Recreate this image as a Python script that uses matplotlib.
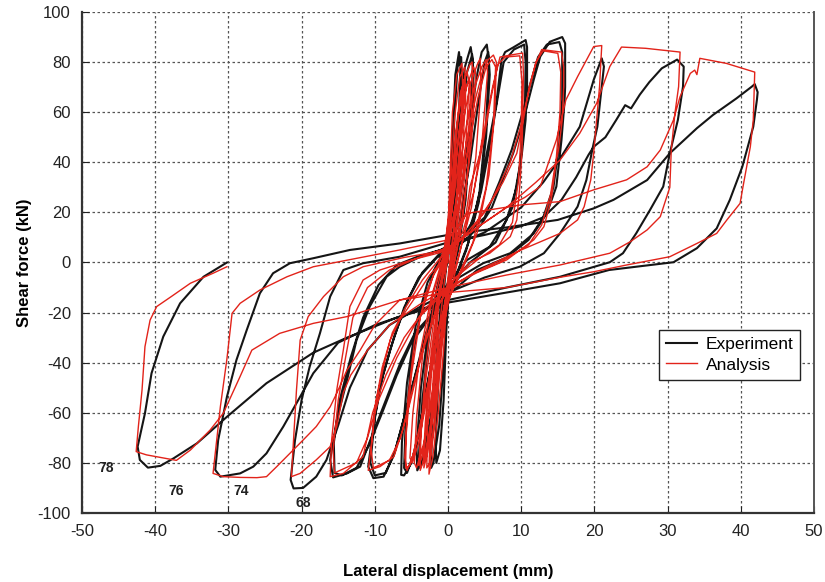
import matplotlib
matplotlib.use("Agg")
import matplotlib.pyplot as plt

plt.rcParams['font.family'] = ['Liberation Sans', 'DejaVu Sans']
plt.rcParams['axes.unicode_minus'] = False

# -------------------------------
# Experiment (black) - cycles grouped by amplitude, mm / kN
# -------------------------------
exp_small_x = [0, 0.3, 0.7, 1.0, 1.5, 1.7, 1.4, 0.9, 0.4, -0.2, -0.6, -1.1, -1.6, -1.7, -1.3, -0.7, -0.2,
               0.4, 0.9, 1.3, 1.8, 1.9, 1.5, 0.8, 0.2, -0.5, -1.2, -2.0, -2.3, -2.2, -1.5, -0.8, 0,
               0.8, 1.6, 2.3, 3.1, 3.4, 3.1, 2.4, 1.4, 0.3, -0.8, -2.0, -3.0, -3.8, -4.0, -3.5, -2.6, -1.4, -0.3,
               1.0, 1.9, 2.6, 3.3, 3.5, 3.0, 2.1, 1.0, 0, -1.2, -2.4, -3.4, -4.2, -4.3, -3.7, -2.6, -1.2,
               0, 1.5, 2.8, 3.9, 4.6, 5.3, 5.6, 5.2, 4.3, 2.8, 1.0, -1, -2.6, -4, -5.0, -6.0, -6.4, -6.3, -5.6, -4.4, -2.8, -1,
               1.5, 3, 4.2, 5, 5.5, 5.7, 5.2, 4.2, 2.5, 0.5, -1.5, -3.2, -4.5, -5.6, -6.0, -5.8, -5, -3.6, -1.8]
exp_small_y = [0, 25, 55, 75, 84, 78, 50, 20, 0, -25, -55, -75, -80, -72, -45, -15, 0,
               25, 60, 78, 82, 70, 40, 10, -5, -35, -65, -80, -82, -65, -35, -10, 2,
               30, 60, 78, 86, 80, 55, 25, 5, -8, -30, -58, -76, -82, -78, -55, -30, -10, 2,
               28, 58, 76, 83, 75, 48, 20, 3, -10, -35, -62, -78, -83, -74, -50, -25, -6,
               4, 22, 50, 74, 84, 87, 80, 55, 28, 8, -6, -22, -45, -68, -80, -85, -84.8, -72, -48, -25, -8, 2,
               15, 40, 65, 80, 84, 75, 50, 24, 5, -10, -28, -55, -75, -84, -82, -65, -40, -18, -3]

exp_10_x = [0, 2, 3.5, 4.5, 5.3, 6.6, 7.3, 7.8, 9, 10.6, 10.8, 10.8, 10.6, 10.1, 9.4, 8.0, 5.7, 2.6, 0,
            -1.5, -3, -4.5, -6, -7.4, -8.8, -10.2, -10.9, -10.2, -9.3, -7.9, -6, -4, -1.5,
            1, 3, 4.5, 5.6, 6.8, 7.6, 9, 10.4, 10.6, 10.5, 9.9, 8.8, 6.5, 3, 0.5,
            -2, -4, -5.8, -7.2, -8.5, -10, -10.6, -10, -8.9, -7.4, -5.5, -3.5, -1]
exp_10_y = [5, 10, 17, 30, 43.6, 63.5, 80.8, 84, 86, 88.8, 86, 70, 57, 43.6, 30.3, 17, 6.3, 1, -8,
            -18, -28, -45, -62, -77, -85.5, -86.1, -81.5, -65.5, -49.6, -34.9, -18, -6, 2,
            6, 14, 28, 45, 66, 80, 85, 87, 80, 60, 40, 22, 8, 0, -8,
            -22, -40, -60, -75, -84, -85, -80, -62, -45, -30, -15, -4, 4]

exp_15_x = [2, 4.5, 6, 7.1, 8.9, 10.3, 11.7, 12.6, 13.9, 15.6, 16, 16, 15.9, 15.5, 14.8, 13.5, 11.7, 8.5, 4.8, 1.5, 0,
            -2, -4.5, -6.5, -8.5, -10.5, -12, -13.8, -15.7, -16.1, -15.2, -13.8, -12.5, -10.7, -8.4, -6.6, -4,
            -1, 2, 5, 7, 8.7, 10, 11.3, 12.3, 13.5, 15.2, 15.6, 15.6, 15.2, 14.4, 13, 11, 8, 4, 0,
            -2.5, -5, -7, -9, -10.8, -12.5, -14.5, -15.5, -15.6, -14.8, -13.3, -11.6, -9.5, -7, -4]
exp_15_y = [8, 15, 22, 30.3, 43.6, 56.9, 72.9, 82.2, 88.1, 90, 87.5, 70, 63.5, 48.9, 30.3, 19.6, 11.6, 3.7, -0.3, -6, -12,
            -20, -28, -40, -55, -70, -81.5, -84.2, -85.8, -78.8, -62.9, -47, -31, -17.6, -5.7, -1.7, 2,
            5, 10, 18, 32, 45, 58, 72, 82, 87, 88, 84, 65, 48, 30, 18, 9, 2, -3, -13,
            -22, -32, -45, -60, -73, -82, -85, -84, -72, -55, -38, -22, -9, -1, 2.5]

exp_21_x = [-1, 0, 5, 10, 13, 15.3, 18, 19.9, 21, 21.3, 20.8, 20.4, 19.7, 18.9, 17.7, 15.3, 13.1, 9.8, 5, 0,
            -4, -8, -11, -13.4, -15, -16.6, -18, -19.8, -21.1, -21.5, -20.9, -20, -18.9, -17.5, -16.1, -14.3,
            -11.6, -6.6]
exp_21_y = [5, 6, 12, 22, 32, 41.4, 54.2, 72.9, 81.5, 78.2, 64.9, 54.2, 44.9, 32.9, 22.3, 11.6, 3.7, -1.7, -6, -12,
            -18, -25, -35, -50, -65, -78.8, -85.5, -90, -90.2, -86.8, -70.9, -54.9, -41.6, -28.3, -13.6, -3,
            -0.3, 2.3]

exp_31_x = [0, 5, 10, 13, 15.5, 17.5, 19.2, 19.9, 21.5, 23, 24.2, 25, 26.2, 27.5, 29.2, 31.3, 32.2, 32.1, 31.4,
            30.3, 29.4, 27.6, 25.7, 23.9, 22.1, 15.3, 8, 0, -5, -10, -15, -18.4, -20.2, -22.5, -24.8, -26.6,
            -28.4, -31.1, -31.8, -31.4, -30.2, -28.9, -27.5, -25.7, -23.9, -21.6, -18.4, -13.4, -6.6]
exp_31_y = [8, 11, 14.5, 18, 25, 34, 43, 46.2, 50, 57, 62.8, 61.5, 67, 72, 77.5, 81, 78.2, 70.2, 56.9,
            43.6, 30.3, 21, 11.6, 3.7, 0.1, -5.7, -10, -15, -20, -25, -32, -44.2, -53.6, -65.5, -76.2, -81.5,
            -84.2, -85.5, -82.8, -70.9, -53.6, -38.9, -27, -12.3, -4.3, -0.3, 1.7, 5, 7.6]

exp_42_x = [1.6, 8, 15, 19.9, 22.6, 27.2, 30.3, 34, 36.2, 39.4, 41.5, 41.9, 42.3, 42.2, 41.7, 40.2, 38.5, 36.7,
            34, 30.8, 22, 15.3, 8, 0, -7, -13.8, -18.4, -24.8, -30.2, -34.3, -37.5, -39.3, -41, -42.1, -42.4,
            -41.4, -40.5, -38.9, -36.6, -33.4, -30.2]
exp_42_y = [11.8, 14, 17, 21.6, 25, 32.9, 43.6, 53.6, 58.9, 65.5, 70.2, 71.2, 68, 65, 54.2, 38.2, 25, 13.6,
            5.7, 0.1, -3, -8.3, -12, -16, -22, -30, -36, -48.2, -61.6, -72.2, -78.2, -81.2, -81.9, -78.8, -73.5,
            -60.2, -44.2, -29.6, -16.3, -5.7, 0]

# -------------------------------
# Analysis (red)
# -------------------------------
ana_small_x = [0, 0.2, 0.6, 1.2, 1.9, 2.0, 1.5, 0.8, 0, -0.6, -1.4, -2.1, -2.6, -2.5, -2.0, -1.3, -0.5,
               0.3, 0.9, 1.6, 2.3, 2.4, 1.8, 0.9, -0.2, -1.0, -1.8, -2.5, -2.9, -2.8, -2.1, -1.2, -0.2,
               0.6, 1.4, 2.3, 3.0, 3.3, 3.4, 2.8, 1.7, 0.2, -1.0, -2.2, -3.2, -3.8, -3.7, -3.0, -1.9, -0.6,
               0.9, 2.0, 3.1, 4.0, 4.4, 4.5, 3.8, 2.5, 0.8, -0.6, -2.0, -3.3, -4.3, -4.6, -4.3, -3.4, -2.0, -0.5,
               1.0, 2.5, 3.8, 4.8, 5.5, 6.2, 6.6, 6.4, 5.6, 4.0, 1.8, -0.5, -2.2, -3.6, -4.8, -5.6, -5.9, -5.5,
               -4.6, -3.0, -1.2,
               1.2, 2.8, 4.1, 5.2, 6.0, 6.5, 6.2, 5.2, 3.4, 1.0, -1.2, -2.8, -4.1, -5.2, -5.8, -5.7, -5.0, -3.8,
               -2.0, 0]
ana_small_y = [0, 30, 60, 75, 79.5, 70, 40, 12, -8, -35, -62, -78, -84.5, -70, -45, -18, 0,
               28, 58, 74, 78, 66, 35, 8, -12, -40, -65, -80, -82, -66, -38, -12, 3,
               30, 58, 74, 79, 80, 70, 40, 12, -10, -35, -62, -78, -83, -68, -40, -15, 0,
               28, 55, 72, 79, 81.5, 70, 42, 15, -6, -25, -52, -72, -82, -80, -62, -35, -12, 2,
               22, 48, 66, 77, 81, 82.8, 80, 60, 35, 12, -4, -18, -40, -62, -77, -83, -78, -55,
               -32, -12, 0,
               20, 46, 66, 78, 81, 78, 55, 30, 8, -8, -25, -50, -70, -81, -82, -68, -45, -22,
               -5, 4]

# extra repeated small analysis cycles (dense red core)
ana_rep_x = [0.4, 1.0, 1.7, 2.6, 2.9, 2.4, 1.3, 0.1, -0.9, -1.9, -2.8, -3.3, -3.1, -2.4, -1.3, -0.2,
             0.7, 1.5, 2.5, 3.5, 3.8, 3.2, 2.0, 0.6, -0.7, -1.8, -2.9, -3.6, -4.0, -3.8, -3.0, -1.7, -0.4,
             0.5, 1.2, 2.0, 2.8, 3.1, 2.7, 1.6, 0.3, -0.6, -1.5, -2.3, -3.0, -3.4, -3.1, -2.3, -1.2, -0.1,
             1.1, 2.2, 3.4, 4.6, 5.2, 5.4, 4.7, 3.2, 1.4, -0.3, -1.7, -3.0, -4.0, -4.9, -5.2, -4.8, -3.8, -2.3, -0.7,
             0.4, 1.1, 1.8, 2.2, 2.1, 1.4, 0.4, -0.5, -1.3, -2.0, -2.4, -2.3, -1.6, -0.6, 0]
ana_rep_y = [22, 50, 68, 76, 72, 45, 15, -8, -32, -58, -76, -82, -70, -42, -15, 1,
             26, 52, 70, 78, 75, 48, 18, -4, -22, -45, -66, -78, -81, -72, -46, -18, 1,
             20, 44, 64, 73, 70, 46, 16, -6, -24, -48, -66, -77, -80, -64, -36, -12, 2,
             25, 50, 68, 78, 81, 76, 50, 22, 2, -14, -34, -56, -72, -80, -78, -60, -36, -14, 2,
             24, 52, 68, 73, 62, 30, 4, -18, -44, -66, -78, -66, -38, -10, 3]

ana_10_x = [1.5, 2.5, 3, 4.4, 5.2, 6.1, 7.1, 8.5, 10.2, 10.3, 10.2, 10.1, 9.8, 9.4, 8.5, 5.7, 3, 0.5,
            -1.5, -3.2, -4.8, -6.2, -7.4, -9.3, -10.9, -10.4, -9.8, -8.8, -7.9, -6.6, -4.5, -2.5, 0,
            2, 3.5, 4.8, 5.9, 6.8, 7.8, 9.8, 10.1, 10, 9.6, 8.8, 7, 4, 1,
            -1.5, -3.5, -5.2, -6.5, -8, -10.2, -10.5, -10, -9, -7.6, -5.8, -3.5, -1]
ana_10_y = [12, 20, 30.3, 43.6, 56.9, 70.2, 82, 82.8, 83.6, 75, 56.9, 43.6, 30.3, 17, 10.3, 3.7, 0, -8,
            -18, -32, -50, -67, -77.5, -81.5, -83, -70.9, -54.9, -41.6, -31, -23, -14, -5, 3,
            12, 28, 48, 66, 79, 82, 82.5, 72, 52, 32, 16, 7, 1, -6,
            -18, -36, -56, -70, -79, -82, -75, -58, -42, -28, -18, -7, 2]

ana_15_x = [2, 5, 7.5, 9.4, 10.3, 11.1, 12, 12.8, 14.2, 15.5, 15.8, 15.8, 15.6, 15.1, 14.8, 14.1, 13.1, 11.7, 8,
            4, 0, -3, -6, -8.5, -10.3, -11.6, -14.3, -16.1, -15.9, -15.2, -14.3, -13.4, -11.6, -9.3, -5, -1,
            3, 6, 8.5, 10, 11, 12, 13, 15, 15.4, 15.3, 14.8, 14, 12.8, 11, 7, 3,
            -0.5, -4, -7, -9.5, -11, -12.5, -15.5, -15.7, -15, -14, -13, -11, -8, -4]
ana_15_y = [10, 20, 32, 43.6, 56.9, 70.2, 79.5, 85, 84.5, 84, 78, 70.2, 56.9, 45, 40.9, 25, 14.3, 9, 1,
            -4, -10, -18, -30, -45, -60, -77.5, -84.2, -85.5, -70.9, -50.9, -34.9, -17.6, -7, -3, 1, 4,
            12, 25, 40, 55, 68, 80, 84.5, 83.5, 76, 60, 42, 27, 15, 7, 0, -5,
            -12, -22, -38, -55, -70, -80, -84, -75, -55, -38, -22, -10, -3, 2]

ana_21_x = [0, 4, 8, 10.5, 12.6, 14.8, 16.1, 17.7, 19.4, 19.9, 21, 20.7, 20.3, 19.9, 19.5, 18.6, 17.7, 15.3,
            10, 5, 0, -4, -8, -11, -13.3, -14.3, -15.2, -16.1, -18, -20.2, -21.4, -21.1, -20.7, -20.2,
            -19.1, -17, -14.3, -11.6, -6]
ana_21_y = [6, 14, 22, 26, 30.3, 48.9, 64.9, 74.2, 83.5, 86.2, 86.6, 70.2, 56.9, 43.6, 33, 22.3, 17, 11.6,
            5, -2, -10, -17, -25, -35, -45, -52, -65.5, -73.5, -78.8, -84.2, -85.5, -70.9, -50.9, -31,
            -21.6, -13.6, -5.7, -1.7, 2]

ana_31_x = [0, 4, 8, 12, 15.3, 18, 20.3, 22.1, 23.7, 27, 31.7, 31.5, 31, 30.5, 30.3, 29, 27.2, 24.9, 22.1,
            15.3, 8, 0, -6.6, -10, -12, -13.8, -15.2, -16.1, -18, -19.8, -21.6, -23.4, -24.8, -26.1, -28.4,
            -30.7, -32.1, -31.6, -31.1, -30.2, -29.5, -28.4, -25.7, -22, -18.4, -6.6, 0]
ana_31_y = [5, 14, 22, 32, 40.9, 51.6, 63.5, 78.2, 86, 85.5, 84, 70.2, 59.6, 45, 30, 18.3, 13, 8.3, 3.7,
            -1, -5, -10, -15, -25, -35, -42.9, -52.2, -57.6, -65.5, -70.9, -76.2, -81.5, -85.5, -85.9, -85.8,
            -85.5, -84.2, -70.9, -57.6, -38.4, -20.3, -16.3, -11, -5.7, -1.7, 5, 9]

ana_42_x = [2.6, 10, 15.3, 19.9, 24.4, 27.2, 29, 30.8, 31.7, 33.1, 33.7, 34, 34.4, 38, 41.9, 41.7, 41.3, 40.3,
            39.9, 38.1, 36.7, 34, 30.3, 24.4, 19.9, 15.3, 8, 0, -6.6, -13.8, -18.4, -23, -26.8, -28.4, -30.7,
            -32.5, -35.2, -37.1, -41.2, -42.6, -42.3, -41.8, -41.4, -40.7, -39.8, -37.8, -35.2, -32.1, -30.2]
ana_42_y = [19.6, 23, 24.3, 29, 33, 38.2, 44.9, 56.9, 66.2, 75.5, 76.8, 75, 81.5, 79.5, 76, 56.9, 46.2, 30.3,
            23.6, 17, 11.6, 7.6, 2.3, -1, -3.7, -5.9, -10, -12, -15, -21.6, -24.3, -28.3, -35, -45.5, -60.2,
            -66.9, -74.9, -79, -76.8, -75.5, -65.5, -50.9, -33.6, -23, -17.6, -13.6, -8.3, -4.3, -1.7]

# cycle number labels near the negative peaks
cycle_labels = ["78", "76", "74", "68"]
cycle_label_x = [-46.7, -37.2, -28.3, -19.8]
cycle_label_y = [-82, -91.2, -91.2, -96]

exp_x = exp_small_x + exp_10_x + exp_15_x + exp_21_x + exp_31_x + exp_42_x
exp_y = exp_small_y + exp_10_y + exp_15_y + exp_21_y + exp_31_y + exp_42_y
ana_x = ana_small_x + ana_rep_x + ana_10_x + ana_15_x + ana_21_x + ana_31_x + ana_42_x
ana_y = ana_small_y + ana_rep_y + ana_10_y + ana_15_y + ana_21_y + ana_31_y + ana_42_y

# -------------------------------
# Plot
# -------------------------------
fig = plt.figure(figsize=(8.25, 5.82), dpi=100)
ax = fig.add_axes([0.0994, 0.1186, 0.8873, 0.8608])

ax.plot(exp_x, exp_y, color="#151515", lw=1.5, label="Experiment", zorder=3)
ax.plot(ana_x, ana_y, color="#e2231a", lw=1.0, label="Analysis", zorder=4)

for t, x, y in zip(cycle_labels, cycle_label_x, cycle_label_y):
    ax.text(x, y, t, fontsize=10, fontweight="bold", ha="center", va="center", color="#222222")

ax.set_xlim(-50, 50)
ax.set_ylim(-100, 100)
ax.set_xticks(range(-50, 51, 10))
ax.set_yticks(range(-100, 101, 20))
ax.grid(True, color="#555555", linestyle=(0, (2, 2)), linewidth=0.9)
ax.tick_params(direction="in", length=5, labelsize=12, colors="#222222", pad=8)

for s in ["left", "bottom"]:
    ax.spines[s].set_linewidth(1.6)
    ax.spines[s].set_color("#333333")
ax.spines["right"].set_linewidth(1.4)
ax.spines["right"].set_color("#555555")
ax.spines["top"].set_visible(False)

ax.set_xlabel("Lateral displacement (mm)", fontsize=12, fontweight="bold", labelpad=18)
ax.set_ylabel("Shear force (kN)", fontsize=12, fontweight="bold", labelpad=4)

leg = ax.legend(loc="upper left", bbox_to_anchor=(0.788, 0.365), borderaxespad=0, fontsize=12.5,
                frameon=True, fancybox=False, edgecolor="#222222", framealpha=1, handlelength=1.8,
                handletextpad=0.5, borderpad=0.4, labelspacing=0.3)
leg.get_frame().set_linewidth(1.0)

plt.savefig("out.png", dpi=100)
